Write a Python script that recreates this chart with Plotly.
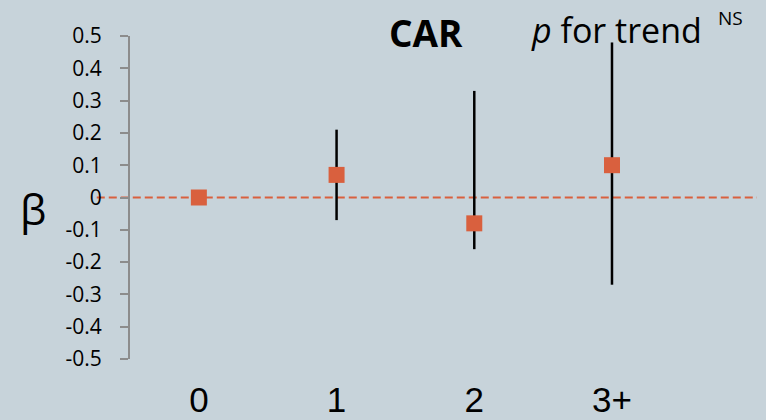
import plotly.graph_objects as go

categories = ["0", "1", "2", "3+"]
x_pos = [0, 1, 2, 3]
beta = [0.0, 0.07, -0.08, 0.10]
ci_low = [0.0, -0.07, -0.16, -0.27]
ci_high = [0.0, 0.21, 0.33, 0.48]
y_ticks = [0.5, 0.4, 0.3, 0.2, 0.1, 0, -0.1, -0.2, -0.3, -0.4, -0.5]
y_ticktext = ["0.5", "0.4", "0.3", "0.2", "0.1", "0", "-0.1", "-0.2", "-0.3", "-0.4", "-0.5"]

BG = "#c7d3da"
ORANGE = "#d9603e"
FONT = "Open Sans"

err_plus = [h - b for h, b in zip(ci_high, beta)]
err_minus = [b - l for b, l in zip(beta, ci_low)]

fig = go.Figure()
fig.add_trace(go.Scatter(
    x=x_pos, y=beta, mode="markers",
    marker=dict(symbol="square", size=16, color=ORANGE),
    error_y=dict(type="data", symmetric=False, array=err_plus, arrayminus=err_minus,
                 thickness=2.5, width=0, color="black"),
    showlegend=False, cliponaxis=False,
))

fig.add_shape(type="line", xref="paper", yref="y", x0=-0.053, x1=1.0, y0=0, y1=0,
              line=dict(color=ORANGE, width=2, dash="8px,4px"), layer="below")

fig.update_layout(
    width=766, height=420,
    margin=dict(l=130, r=9, t=36, b=61),
    paper_bgcolor=BG, plot_bgcolor=BG,
    font=dict(family=FONT, color="black"),
    xaxis=dict(range=[-0.5, 4.053], tickvals=x_pos, ticktext=categories,
               showline=False, showgrid=False, zeroline=False, ticks="",
               automargin=False,
               tickfont=dict(family="Liberation Sans", size=35), ticklabelstandoff=17),
    yaxis=dict(range=[-0.5, 0.5], tickvals=y_ticks, ticktext=y_ticktext,
               showline=True, linecolor="#8c8c8c", linewidth=2,
               ticks="outside", ticklen=8, tickwidth=2, tickcolor="#8c8c8c",
               showgrid=False, zeroline=False, automargin=False,
               tickfont=dict(family=FONT, size=21), ticklabelstandoff=14),
    annotations=[
        dict(text="<b>CAR</b>", xref="paper", yref="paper", x=0.472, y=1.01,
             xanchor="center", yanchor="middle", showarrow=False,
             font=dict(family=FONT, size=37)),
        dict(text="<i>p</i> for trend", xref="paper", yref="paper", x=0.637, y=1.02,
             xanchor="left", yanchor="middle", showarrow=False,
             font=dict(family=FONT, size=34)),
        dict(text="NS", xref="paper", yref="paper", x=0.935, y=1.055,
             xanchor="left", yanchor="middle", showarrow=False,
             font=dict(family=FONT, size=19)),
        dict(text="β", xref="paper", yref="paper", x=-0.155, y=0.465,
             xanchor="center", yanchor="middle", showarrow=False,
             font=dict(family=FONT, size=42)),
    ],
)

fig.write_html("out.html")
